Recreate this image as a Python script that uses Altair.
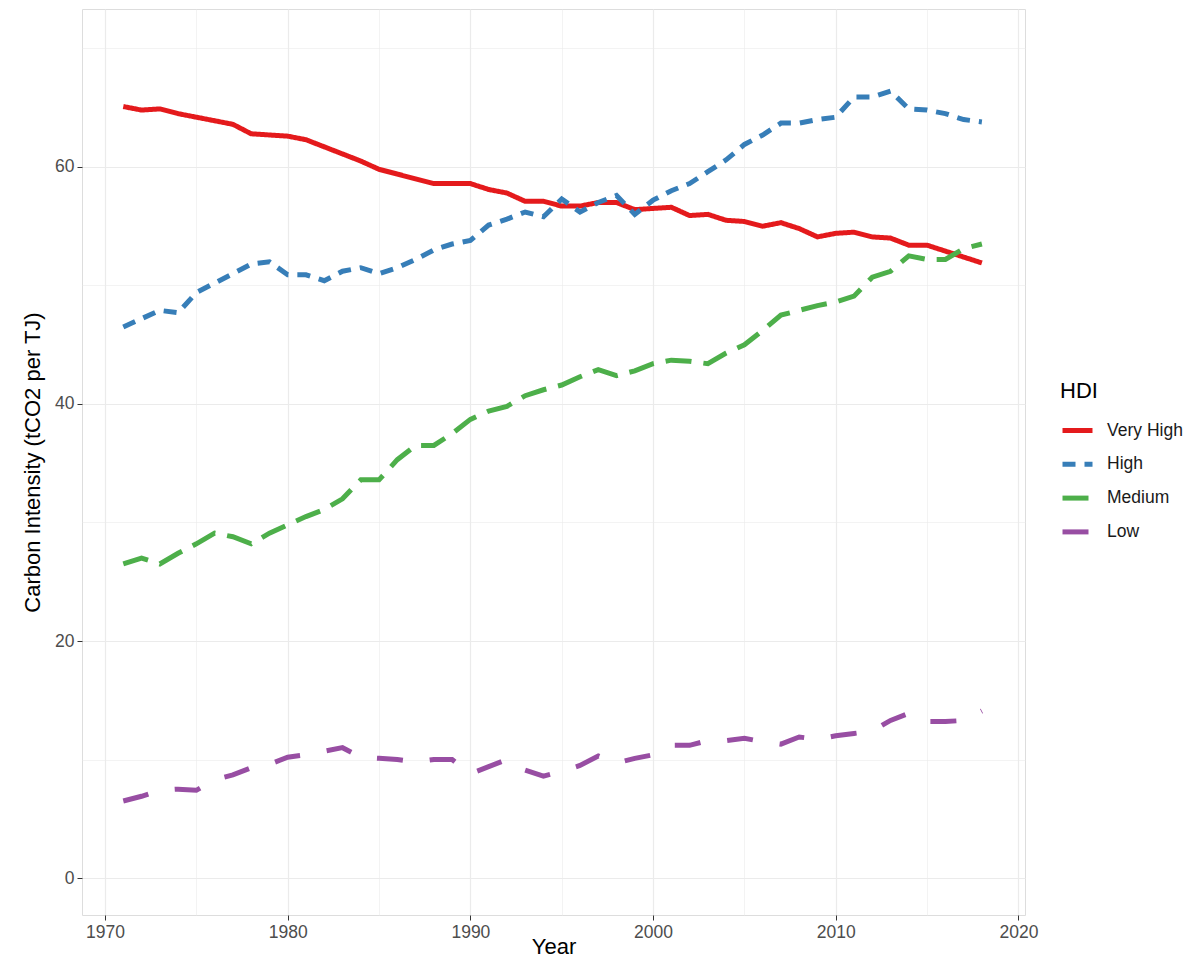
import altair as alt
import pandas as pd

years = list(range(1971, 2019))

very_high = [65.1, 64.8, 64.9, 64.5, 64.2, 63.9, 63.6, 62.8, 62.7, 62.6,
             62.3, 61.7, 61.1, 60.5, 59.8, 59.4, 59.0, 58.6, 58.6, 58.6,
             58.1, 57.8, 57.1, 57.1, 56.7, 56.7, 57.0, 57.0, 56.4, 56.5,
             56.6, 55.9, 56.0, 55.5, 55.4, 55.0, 55.3, 54.8, 54.1, 54.4,
             54.5, 54.1, 54.0, 53.4, 53.4, 52.9, 52.4, 51.9]
high = [46.5, 47.2, 47.9, 47.7, 49.4, 50.2, 51.0, 51.8, 52.0, 50.9,
        50.9, 50.4, 51.2, 51.5, 51.0, 51.5, 52.2, 53.0, 53.5, 53.8,
        55.1, 55.6, 56.2, 55.8, 57.3, 56.2, 57.0, 57.6, 56.0, 57.2,
        58.0, 58.6, 59.6, 60.6, 61.9, 62.7, 63.7, 63.7, 64.0, 64.2,
        65.9, 65.9, 66.4, 64.9, 64.8, 64.5, 64.0, 63.8]
medium = [26.5, 27.0, 26.5, 27.4, 28.2, 29.1, 28.8, 28.2, 29.1, 29.8,
          30.5, 31.1, 32.0, 33.6, 33.6, 35.3, 36.5, 36.5, 37.5, 38.7,
          39.4, 39.8, 40.7, 41.2, 41.6, 42.3, 42.9, 42.4, 42.8, 43.4,
          43.7, 43.6, 43.4, 44.3, 45.0, 46.2, 47.5, 47.9, 48.3, 48.6,
          49.1, 50.7, 51.2, 52.5, 52.2, 52.2, 53.1, 53.5]
low = [6.5, 6.9, 7.4, 7.5, 7.4, 8.3, 8.7, 9.3, 9.6, 10.2,
       10.4, 10.7, 11.0, 10.2, 10.1, 10.0, 9.8, 10.0, 10.0, 8.8,
       9.4, 10.0, 9.1, 8.6, 9.0, 9.5, 10.3, 9.7, 10.1, 10.4,
       11.2, 11.2, 11.6, 11.6, 11.8, 11.5, 11.3, 11.9, 11.7, 12.0,
       12.2, 12.4, 13.3, 13.9, 13.2, 13.2, 13.3, 14.1]

groups = ["Very High", "High", "Medium", "Low"]
colors = ["#E41A1C", "#377EB8", "#4DAF4A", "#984EA3"]
dashes = [[1, 0], [13, 9], [26, 12], [26, 27]]

x_ticks = [1970, 1975, 1980, 1985, 1990, 1995, 2000, 2005, 2010, 2015, 2020]
y_ticks = [0, 10, 20, 30, 40, 50, 60, 70]

rows = []
for g, vals in zip(groups, [very_high, high, medium, low]):
    for yr, v in zip(years, vals):
        rows.append({"Year": yr, "value": v, "HDI": g})
df = pd.DataFrame(rows)

FONT = "Liberation Sans"
xscale = alt.Scale(domain=[1968.74, 2020.36], nice=False, zero=False)
yscale = alt.Scale(domain=[-3.12, 73.33], nice=False, zero=False)

x_minor = "datum.value % 10 !== 0"
y_minor = "datum.value % 20 !== 0"


def axis(title, values, minor_test, **kw):
    return alt.Axis(
        values=values, title=title, format="d",
        labelExpr=f"({minor_test}) ? '' : datum.label",
        grid=True, gridColor="#EBEBEB",
        gridWidth={"condition": {"test": minor_test, "value": 0.6}, "value": 1.2},
        tickOpacity={"condition": {"test": minor_test, "value": 0}, "value": 1},
        domain=False, tickColor="#333333", tickSize=5, tickWidth=1,
        labelColor="#4D4D4D", labelFontSize=17.5, labelPadding=3,
        titleFontSize=22, titleFontWeight="normal", titleColor="#000000",
        **kw)


lines = alt.Chart(df).mark_line(strokeWidth=5).encode(
    x=alt.X("Year:Q", scale=xscale,
            axis=axis("Year", x_ticks, x_minor, titleBaseline="alphabetic", titleY=38)),
    y=alt.Y("value:Q", scale=yscale,
            axis=axis("Carbon Intensity (tCO2 per TJ)", y_ticks, y_minor, titlePadding=10)),
    color=alt.Color("HDI:N", scale=alt.Scale(domain=groups, range=colors),
                    sort=groups,
                    legend=alt.Legend(title="HDI", orient="none", legendX=978, legendY=372,
                                      titleFontSize=22, titleFontWeight="normal",
                                      titleColor="#000000", titlePadding=10,
                                      labelFontSize=17.5, labelColor="#1A1A1A",
                                      symbolType="stroke", symbolSize=900,
                                      symbolStrokeWidth=5, rowPadding=5.8,
                                      labelOffset=12)),
    strokeDash=alt.StrokeDash("HDI:N", scale=alt.Scale(domain=groups, range=dashes),
                              sort=groups, legend=None),
)

chart = lines.properties(
    width=943, height=906,
    autosize=alt.AutoSizeParams(type="none"),
    padding={"left": 74, "top": 1, "right": 170, "bottom": 46},
).configure_view(stroke="#333333", strokeWidth=1).configure(font=FONT)

chart.save("out.html", embed_options={"renderer": "svg", "actions": False})
